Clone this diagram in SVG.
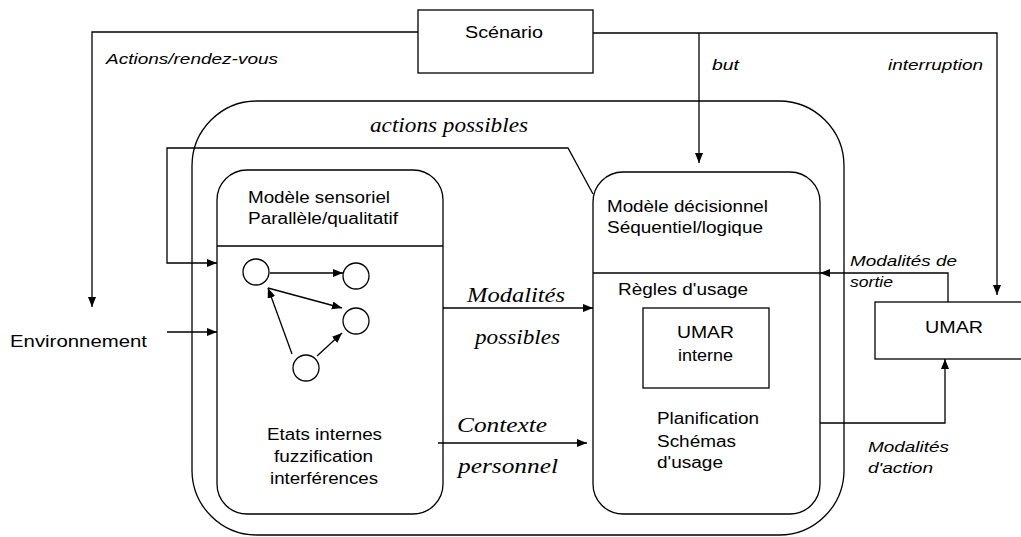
<svg xmlns="http://www.w3.org/2000/svg" width="1021" height="537" viewBox="0 0 1021 537">
<style>
.ln{fill:none;stroke:#000;stroke-width:1.3}
.bx{fill:#fff;stroke:#000;stroke-width:1.3}
.t{font-family:"Liberation Sans",Arial,sans-serif;font-size:16px;fill:#000}
.ti{font-family:"Liberation Sans",Arial,sans-serif;font-size:15px;font-style:italic;fill:#000}
.ts{font-family:"Liberation Serif","Times New Roman",serif;font-size:21px;font-style:italic;fill:#000}
</style>
<defs>
<marker id="ah" markerUnits="userSpaceOnUse" markerWidth="11" markerHeight="9" refX="10" refY="4" orient="auto">
<path d="M0,0 L10,4 L0,8 z" fill="#000"/>
</marker>
</defs>
<rect width="1021" height="537" fill="#fff"/>
<g id="outer">
<rect class="ln" x="192" y="101" width="652" height="434" rx="65" ry="65"/>
</g>
<g id="scenario">
<rect class="bx" x="418" y="10" width="175" height="63"/>
<text class="t" x="465" y="38" textLength="78" lengthAdjust="spacingAndGlyphs">Scénario</text>
</g>
<g id="sensoriel">
<rect class="bx" x="217" y="170" width="226" height="344" rx="30" ry="30"/>
<line class="ln" x1="217" y1="246" x2="443" y2="246"/>
<text class="t" x="248" y="203" textLength="142" lengthAdjust="spacingAndGlyphs">Modèle sensoriel</text>
<text class="t" x="248" y="224" textLength="150" lengthAdjust="spacingAndGlyphs">Parallèle/qualitatif</text>
<text class="t" x="267" y="440" textLength="115" lengthAdjust="spacingAndGlyphs">Etats internes</text>
<text class="t" x="274" y="462" textLength="99" lengthAdjust="spacingAndGlyphs">fuzzification</text>
<text class="t" x="270" y="484" textLength="108" lengthAdjust="spacingAndGlyphs">interférences</text>
<circle class="ln" cx="256" cy="272" r="13"/>
<circle class="ln" cx="356" cy="276" r="13"/>
<circle class="ln" cx="356" cy="321" r="13"/>
<circle class="ln" cx="306" cy="368" r="13"/>
<line class="ln" x1="270" y1="273" x2="343" y2="273" marker-end="url(#ah)"/>
<line class="ln" x1="268" y1="288" x2="342" y2="308" marker-end="url(#ah)"/>
<line class="ln" x1="292" y1="354" x2="268" y2="288" marker-end="url(#ah)"/>
<line class="ln" x1="317" y1="356" x2="342" y2="333" marker-end="url(#ah)"/>
</g>
<g id="decisionnel">
<rect class="bx" x="593" y="172" width="227" height="342" rx="30" ry="30"/>
<text class="t" x="607" y="212" textLength="161" lengthAdjust="spacingAndGlyphs">Modèle décisionnel</text>
<text class="t" x="607" y="233" textLength="156" lengthAdjust="spacingAndGlyphs">Séquentiel/logique</text>
<text class="t" x="618" y="295" textLength="130" lengthAdjust="spacingAndGlyphs">Règles d'usage</text>
<text class="t" x="657" y="424" textLength="102" lengthAdjust="spacingAndGlyphs">Planification</text>
<text class="t" x="657" y="447" textLength="79" lengthAdjust="spacingAndGlyphs">Schémas</text>
<text class="t" x="657" y="468" textLength="66" lengthAdjust="spacingAndGlyphs">d'usage</text>
</g>
<g id="umar-interne">
<rect class="bx" x="643" y="308" width="126" height="80"/>
<text class="t" x="677" y="338" textLength="57" lengthAdjust="spacingAndGlyphs">UMAR</text>
<text class="t" x="678" y="361" textLength="55" lengthAdjust="spacingAndGlyphs">interne</text>
</g>
<g id="umar">
<rect class="bx" x="875" y="302" width="160" height="57"/>
<text class="t" x="925" y="333" font-size="18" textLength="58" lengthAdjust="spacingAndGlyphs">UMAR</text>
</g>
<g id="environnement">
<text class="t" x="10" y="347" textLength="137" lengthAdjust="spacingAndGlyphs">Environnement</text>
</g>
<g id="connectors">
<polyline class="ln" points="418,32 92,32 92,307" marker-end="url(#ah)"/>
<polyline class="ln" points="593,33 997,33 997,295" marker-end="url(#ah)"/>
<line class="ln" x1="699" y1="33" x2="699" y2="163" marker-end="url(#ah)"/>
<polyline class="ln" points="593,194 568,148 167,148 167,263 217,263" marker-end="url(#ah)"/>
<line class="ln" x1="167" y1="332" x2="217" y2="332" marker-end="url(#ah)"/>
<line class="ln" x1="443" y1="308" x2="593" y2="308" marker-end="url(#ah)"/>
<line class="ln" x1="438" y1="443" x2="587" y2="443" marker-end="url(#ah)"/>
<line class="ln" x1="593" y1="273" x2="820" y2="273"/>
<polyline class="ln" points="948,302 948,273 820,273" marker-end="url(#ah)"/>
<polyline class="ln" points="820,423 945,423 945,359" marker-end="url(#ah)"/>
</g>
<g id="labels">
<text class="ti" x="106" y="64" textLength="172" lengthAdjust="spacingAndGlyphs">Actions/rendez-vous</text>
<text class="ti" x="712" y="70" textLength="27" lengthAdjust="spacingAndGlyphs">but</text>
<text class="ti" x="888" y="70" textLength="95" lengthAdjust="spacingAndGlyphs">interruption</text>
<text class="ts" x="370" y="132" textLength="158" lengthAdjust="spacingAndGlyphs">actions possibles</text>
<text class="ts" x="467" y="302" textLength="98" lengthAdjust="spacingAndGlyphs">Modalités</text>
<text class="ts" x="475" y="344" textLength="85" lengthAdjust="spacingAndGlyphs">possibles</text>
<text class="ts" x="457" y="432" textLength="90" lengthAdjust="spacingAndGlyphs">Contexte</text>
<text class="ts" x="458" y="473" textLength="100" lengthAdjust="spacingAndGlyphs">personnel</text>
<text class="ti" x="850" y="266" textLength="107" lengthAdjust="spacingAndGlyphs">Modalités de</text>
<text class="ti" x="850" y="287" textLength="43" lengthAdjust="spacingAndGlyphs">sortie</text>
<text class="ti" x="868" y="452" textLength="81" lengthAdjust="spacingAndGlyphs">Modalités</text>
<text class="ti" x="868" y="473" textLength="65" lengthAdjust="spacingAndGlyphs">d'action</text>
</g>
</svg>
